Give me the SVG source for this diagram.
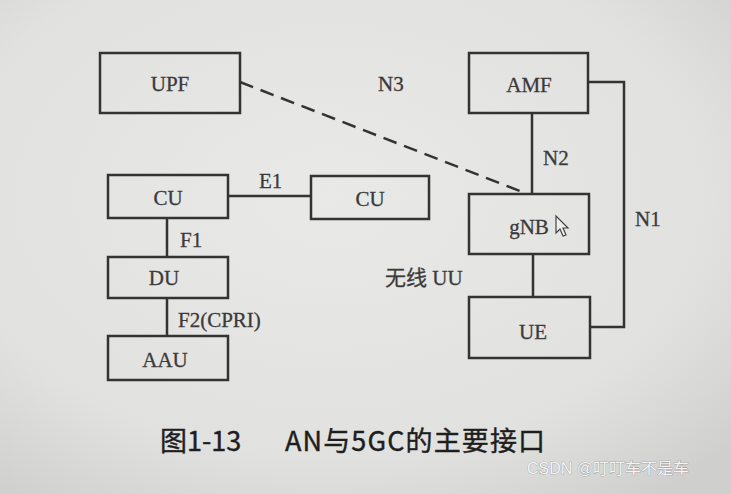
<svg xmlns="http://www.w3.org/2000/svg" width="731" height="494" viewBox="0 0 731 494">
<defs>
<radialGradient id="bg" cx="0.45" cy="0.4" r="0.75">
<stop offset="0" stop-color="#e9e9e7"/>
<stop offset="0.7" stop-color="#e1e1df"/>
<stop offset="1" stop-color="#cfcfcd"/>
</radialGradient>
<style>
.box{fill:none;stroke:#333;stroke-width:2.5}
.ln{fill:none;stroke:#333;stroke-width:2.5}
.t{font-family:"Liberation Serif","Noto Sans CJK SC",serif;font-size:21px;fill:#3a3a3a;stroke:#3a3a3a;stroke-width:0.3;text-anchor:middle;dominant-baseline:central}
.lbl{font-family:"Liberation Serif","Noto Sans CJK SC",serif;font-size:21px;fill:#3a3a3a;stroke:#3a3a3a;stroke-width:0.3;dominant-baseline:central}
.cap{font-family:"Noto Sans CJK SC","Liberation Sans",sans-serif;font-size:27px;fill:#1e1e1e;font-weight:400;stroke:#1e1e1e;stroke-width:0.4}
.wm{font-family:"Liberation Sans","Noto Sans CJK SC",sans-serif;font-size:16px;fill:#f4f4f4;stroke:#8a8a8a;stroke-width:0.6;paint-order:stroke}
</style>
</defs>
<rect width="731" height="494" fill="url(#bg)"/>
<g id="connectors">
<line class="ln" x1="240" y1="82" x2="525" y2="193" stroke-dasharray="14,8"/>
<line class="ln" x1="228" y1="196" x2="311" y2="196"/>
<line class="ln" x1="167" y1="218" x2="167" y2="257"/>
<line class="ln" x1="167" y1="298" x2="167" y2="336"/>
<line class="ln" x1="532" y1="113" x2="532" y2="194"/>
<line class="ln" x1="533" y1="254" x2="533" y2="297"/>
<polyline class="ln" points="588,82 624,82 624,327 590,327"/>
<text class="lbl" x="378" y="84">N3</text>
<text class="lbl" x="259" y="181">E1</text>
<text class="lbl" x="180" y="240">F1</text>
<text class="lbl" x="178" y="320">F2(CPRI)</text>
<text class="lbl" x="543" y="158">N2</text>
<text class="lbl" x="635" y="219">N1</text>
<text class="lbl" x="385" y="278">无线 UU</text>
</g>
<g id="upf"><rect class="box" x="100" y="53" width="140" height="60"/><text class="t" x="170" y="84">UPF</text></g>
<g id="cu1"><rect class="box" x="108" y="175" width="120" height="43"/><text class="t" x="168" y="198">CU</text></g>
<g id="cu2"><rect class="box" x="311" y="176" width="118" height="43"/><text class="t" x="370" y="199">CU</text></g>
<g id="du"><rect class="box" x="108" y="257" width="120" height="41"/><text class="t" x="164" y="278">DU</text></g>
<g id="aau"><rect class="box" x="108" y="336" width="120" height="44"/><text class="t" x="165" y="360">AAU</text></g>
<g id="amf"><rect class="box" x="469" y="53" width="119" height="60"/><text class="t" x="529" y="85">AMF</text></g>
<g id="gnb"><rect class="box" x="469" y="194" width="120" height="60"/><text class="t" x="529" y="227">gNB</text>
<path d="M556,216 L556,233 L560,229 L563,236 L566,235 L563,228 L568,228 Z" fill="#eee" stroke="#444" stroke-width="1.2"/></g>
<g id="ue"><rect class="box" x="469" y="297" width="121" height="61"/><text class="t" x="533" y="332">UE</text></g>
<text class="cap" x="160" y="451">图1-13</text>
<text class="cap" x="285" y="451" textLength="260">AN与5GC的主要接口</text>
<text class="wm" x="527" y="474">CSDN @叮叮车不是车</text>
</svg>
